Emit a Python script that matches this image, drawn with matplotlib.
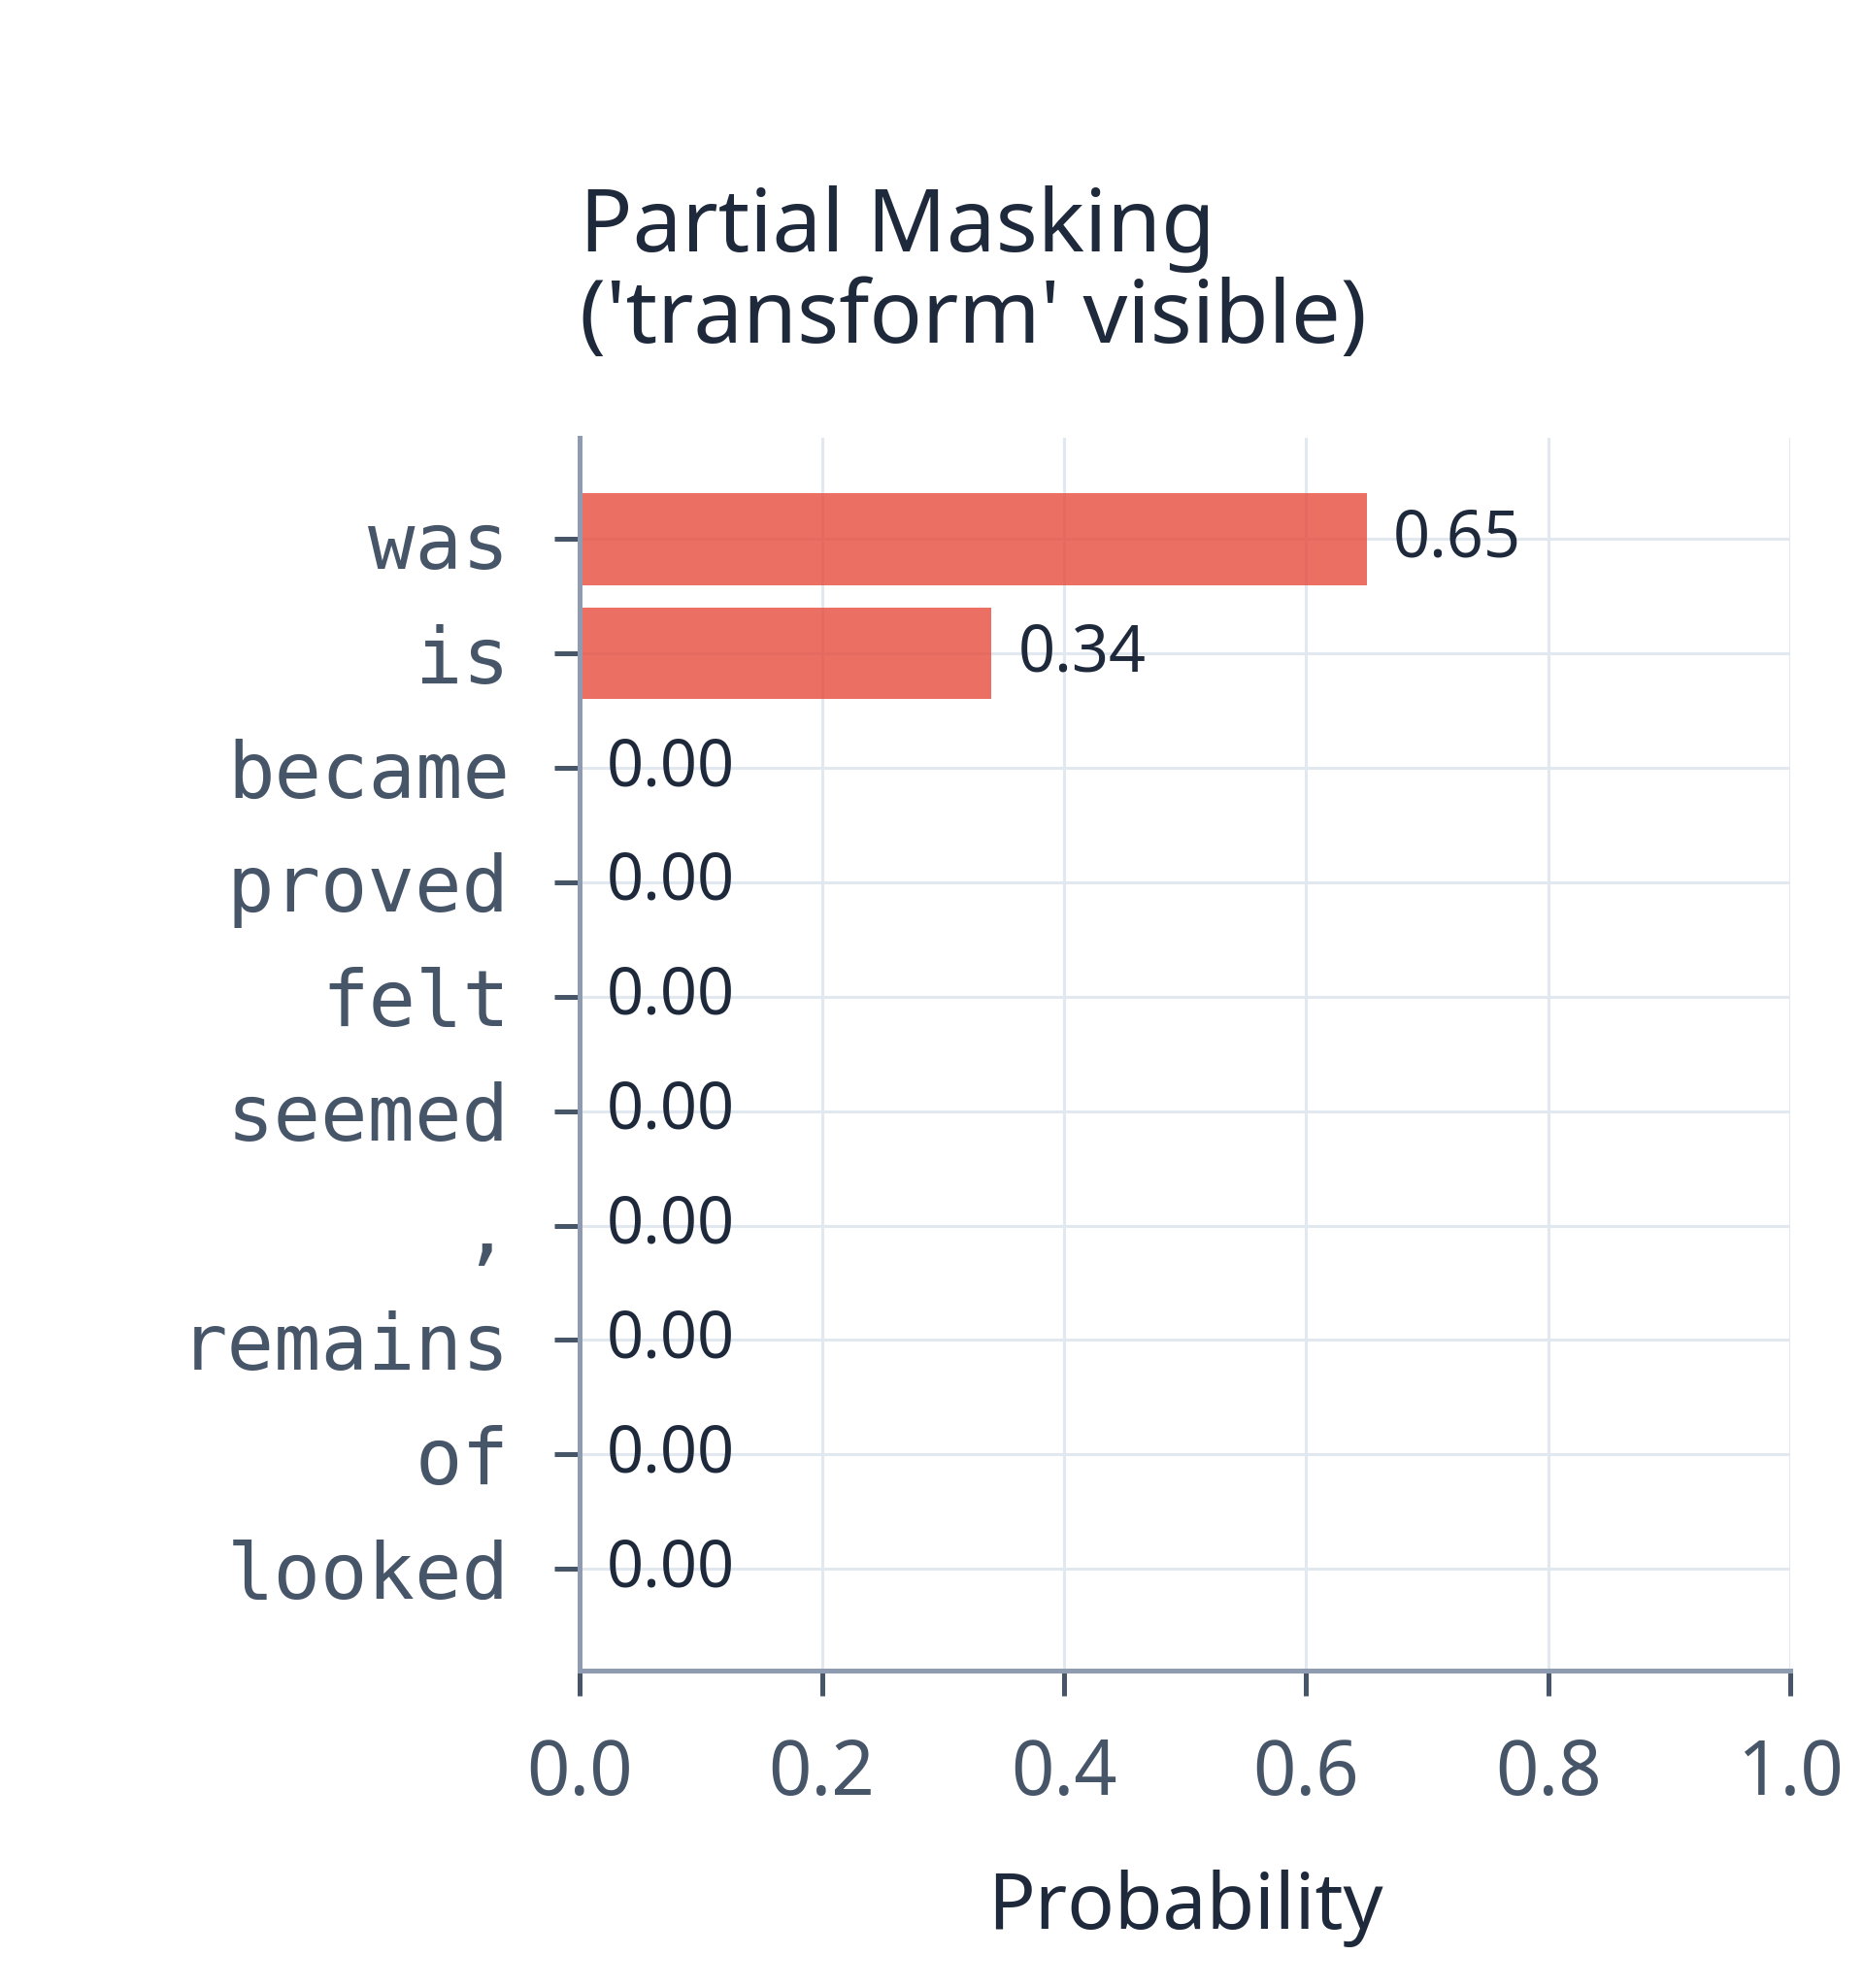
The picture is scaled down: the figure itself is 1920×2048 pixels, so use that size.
import matplotlib.pyplot as plt
import numpy as np

plt.rcParams['font.family'] = ['Noto Sans', 'DejaVu Sans']

tokens = ["was", "is", "became", "proved", "felt", "seemed", ",", "remains", "of", "looked"]
probs = [0.65, 0.34, 0.00, 0.00, 0.00, 0.00, 0.00, 0.00, 0.00, 0.00]
x_ticks = [0.0, 0.2, 0.4, 0.6, 0.8, 1.0]

spine_col = '#8e9bb0'
tick_col = '#475569'
text_col = '#1e293b'

fig = plt.figure(figsize=(19.2, 20.48), dpi=100)
ax = fig.add_axes([0.311, 0.1597, 0.6495, 0.6203])

y = np.arange(len(tokens))
ax.barh(y, probs, height=0.8, color='#e74c3c', alpha=0.8, zorder=2)

# value labels just right of each bar
for yi, p in zip(y, probs):
    ax.text(p + 0.022, yi, f"{p:.2f}", va='center', ha='left',
            fontsize=48, color=text_col, zorder=3)

ax.set_yticks(y)
ax.set_yticklabels(tokens, family='DejaVu Sans Mono', fontsize=58, color=tick_col)
ax.invert_yaxis()

ax.set_xlim(0, 1.0)
ax.set_xticks(x_ticks)
ax.set_xticklabels([f"{t:.1f}" for t in x_ticks], fontsize=56, color=tick_col)

ax.grid(True, color='#e2e8f0', linewidth=2.2, zorder=0)
ax.set_axisbelow(True)

for s in ['top', 'right']:
    ax.spines[s].set_visible(False)
for s in ['left', 'bottom']:
    ax.spines[s].set_color(spine_col)
    ax.spines[s].set_linewidth(3.6)

ax.tick_params(axis='both', length=19, width=3.6, color=tick_col, pad=30)
ax.tick_params(axis='y', pad=33)

ax.set_xlabel('Probability', fontsize=58, color=text_col, labelpad=42)
ax.set_title("Partial Masking\n('transform' visible)", loc='left', fontsize=65,
             color=text_col, pad=70, linespacing=1.07)

fig.savefig('out.png', dpi=100, facecolor='white')
